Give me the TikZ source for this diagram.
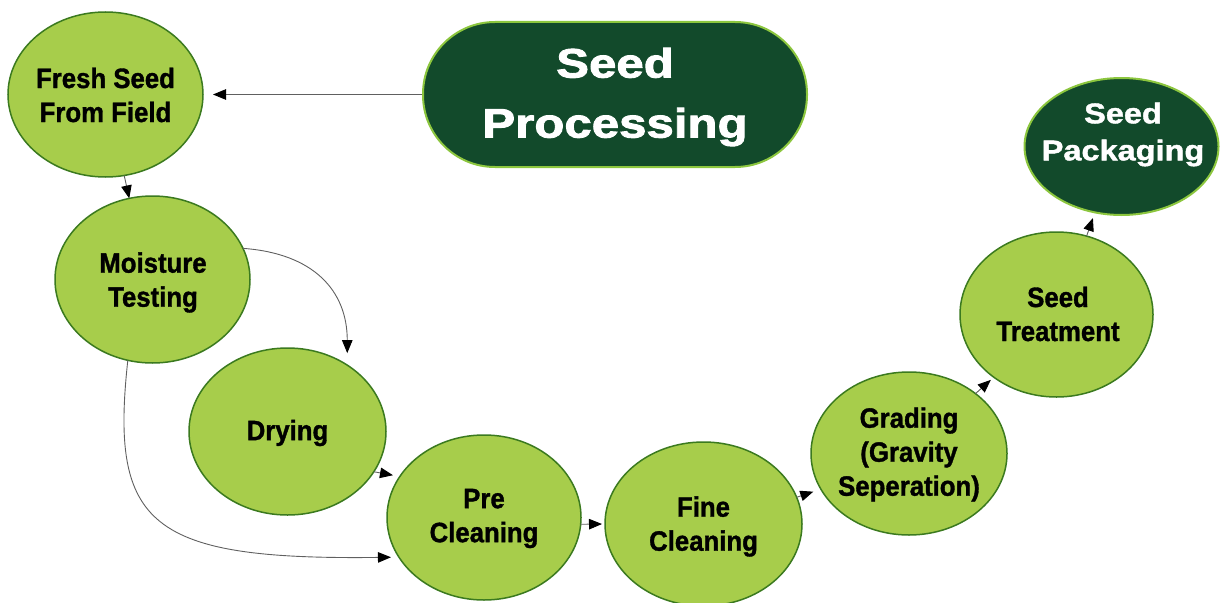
\documentclass[tikz,border=0pt]{standalone}
\usepackage{fontspec}
\setmainfont{Liberation Sans}
\newfontfamily\stagefont[FakeStretch=0.92,FakeBold=1.2]{Liberation Sans}
\newfontfamily\titlefont[FakeStretch=1.2,FakeBold=2.2]{Liberation Sans}
\newfontfamily\packfont[FakeStretch=1.14,FakeBold=1.5]{Liberation Sans}
\usetikzlibrary{shapes.geometric,arrows.meta}
\definecolor{lightgreen}{HTML}{A7CD4B}
\definecolor{edgegreen}{HTML}{3B7A1F}
\definecolor{darkgreen}{HTML}{124A2B}
\definecolor{rimgreen}{HTML}{8CC63E}
\definecolor{linkgray}{HTML}{606060}
\begin{document}
\begin{tikzpicture}[x=1pt,y=-1pt,
  stage/.style={ellipse,draw=edgegreen,fill=lightgreen,line width=1.5pt,inner sep=0pt,outer sep=0pt},
  darkstage/.style={ellipse,draw=rimgreen,fill=darkgreen,line width=2pt,inner sep=0pt,outer sep=0pt},
  stagetext/.style={font=\stagefont\bfseries\fontsize{28}{34}\selectfont,align=center,inner sep=0pt,text=black},
  titletext/.style={font=\titlefont\bfseries\fontsize{41}{60}\selectfont,align=center,inner sep=0pt,text=white},
  packtext/.style={font=\packfont\bfseries\fontsize{28.5}{37}\selectfont,align=center,inner sep=0pt,text=white},
  link/.style={draw=linkgray,line width=0.9pt,-{Triangle[length=13pt,width=10.5pt,color=black]}}
]
\useasboundingbox (0,0) rectangle (1222,602);

% title
\node[draw=rimgreen,fill=darkgreen,line width=2pt,rounded corners=72pt,minimum width=384pt,minimum height=145pt,inner sep=0pt] (title) at (615,94.5) {};
\node[titletext] (title-label) at (615,97) {Seed\\Processing};

% stages
\node[stage,minimum width=195pt,minimum height=165pt] (fresh) at (105.5,94.5) {};
\node[stage,minimum width=195pt,minimum height=167pt] (moist) at (152.5,279.5) {};
\node[stage,minimum width=197pt,minimum height=167pt] (drying) at (287.5,431.5) {};
\node[stage,minimum width=194pt,minimum height=165pt] (pre) at (484,517.5) {};
\node[stage,minimum width=197pt,minimum height=164pt] (fine) at (703.5,524) {};
\node[stage,minimum width=196pt,minimum height=163pt] (grading) at (909,453.5) {};
\node[stage,minimum width=193pt,minimum height=165pt] (treat) at (1056.5,314.5) {};
\node[darkstage,minimum width=194pt,minimum height=137pt] (pack) at (1121.5,146.5) {};

\node[stagetext] (fresh-label) at (105.5,95) {Fresh Seed\\From Field};
\node[stagetext] (moist-label) at (153,282.5) {Moisture\\Testing};
\node[stagetext] (drying-label) at (287.5,433) {Drying};
\node[stagetext] (pre-label) at (484,518.5) {Pre\\Cleaning};
\node[stagetext] (fine-label) at (703.5,526.5) {Fine\\Cleaning};
\node[stagetext] (grading-label) at (909,454.5) {Grading\\(Gravity\\Seperation)};
\node[stagetext] (treat-label) at (1058,314) {Seed\\Treatment};
\node[packtext] (pack-label) at (1123,134.5) {Seed\\Packaging};

% connectors
\draw[link,shorten >=10pt] (title.west) -- (fresh.east);
\draw[link] (fresh.-77) -- (moist.106);
\draw[link,shorten >=12pt] (moist.19) .. controls +(70,5) and +(0,-75) .. (drying.48);
\draw[link,shorten >=8pt] (moist.-107) .. controls +(-18,165) and +(-250,3) .. (pre.-155);
\draw[link,shorten >=7pt] (drying.-25.5) -- (pre.154);
\draw[link,shorten >=3pt] (pre.-4) -- (fine.180);
\draw[link,shorten >=8pt] (fine.16) -- (grading.-158);
\draw[link,shorten >=4pt] (grading.42) -- (treat.-135);
\draw[link,shorten >=6pt] (treat.69) -- (pack.-112);
\end{tikzpicture}
\end{document}
